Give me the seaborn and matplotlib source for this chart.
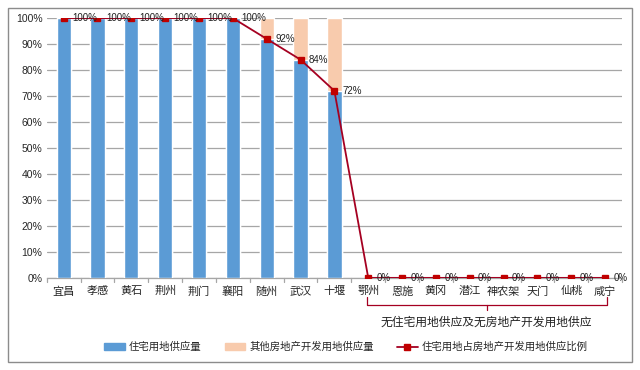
import matplotlib
matplotlib.use("Agg")
import matplotlib.pyplot as plt
import seaborn as sns
import pandas as pd
import numpy as np
from matplotlib.patches import Patch
from matplotlib.lines import Line2D

cities = ["宜昌", "孝感", "黄石", "荆州", "荆门", "襄阳", "随州", "武汉", "十堰",
          "鄂州", "恩施", "黄冈", "潜江", "神农架", "天门", "仙桃", "咸宁"]
residential = [100, 100, 100, 100, 100, 100, 92, 84, 72, 0, 0, 0, 0, 0, 0, 0, 0]
other = [0, 0, 0, 0, 0, 0, 8, 16, 28, 0, 0, 0, 0, 0, 0, 0, 0]
ratio = [100, 100, 100, 100, 100, 100, 92, 84, 72, 0, 0, 0, 0, 0, 0, 0, 0]
yticks = [0, 10, 20, 30, 40, 50, 60, 70, 80, 90, 100]

sns.set_theme(style="white")
plt.rcParams['font.family'] = ['Noto Sans CJK SC', 'DejaVu Sans']

df = pd.DataFrame({"city": cities, "res": residential, "oth": other, "ratio": ratio})
df["total"] = df["res"] + df["oth"]

BLUE = "#5b9bd5"
PEACH = "#f8cbad"
RED = "#a50021"
MRED = "#c00000"

fig = plt.figure(figsize=(6.4, 3.7), dpi=100)
ax = fig.add_axes([0.073, 0.249, 0.899, 0.702])

sns.barplot(data=df, x="city", y="total", color=PEACH, width=0.42, ax=ax,
            saturation=1, zorder=2)
sns.barplot(data=df, x="city", y="res", color=BLUE, width=0.42, ax=ax,
            saturation=1, zorder=3)
sns.pointplot(data=df, x="city", y="ratio", color=RED, markers="s",
              markersize=5, linewidth=1.3, ax=ax, zorder=4)
for ln in ax.lines:
    ln.set_markerfacecolor(MRED)
    ln.set_markeredgecolor(MRED)

for i, v in enumerate(ratio):
    ax.annotate(f"{v}%", (i, v), xytext=(6, 0), textcoords="offset points",
                va="center", ha="left", fontsize=7, color="#222222",
                family=["Liberation Sans", "DejaVu Sans"], zorder=5)

ax.set_ylim(0, 100)
ax.set_xlim(-0.5, len(cities) - 0.5)
ax.set_yticks(yticks)
ax.set_yticklabels([f"{t}%" for t in yticks], fontsize=7.5,
                   family=["Liberation Sans", "DejaVu Sans"])
ax.yaxis.grid(True, color="#a6a6a6", linewidth=0.9, zorder=0)
ax.set_axisbelow(True)
ax.set_xlabel("")
ax.set_ylabel("")
ax.tick_params(axis="x", labelsize=8, length=0, pad=6)
ax.tick_params(axis="y", length=0, pad=3)
for s in ["top", "right", "left"]:
    ax.spines[s].set_visible(False)
ax.spines["bottom"].set_color("#a6a6a6")
ax.spines["bottom"].set_linewidth(0.9)
# category boundary ticks
for b in np.arange(-0.5, len(cities), 1.0):
    ax.plot([b, b], [0, -1.6], color="#a6a6a6", lw=0.9, clip_on=False)

# bracket under the zero-supply cities
bx0, bx1 = 9 - 0.05, 16 + 0.05
yb = -10.4
ax.plot([bx0, bx0, bx1, bx1], [yb + 3, yb, yb, yb + 3], color="#a50021",
        lw=0.9, clip_on=False)
ax.plot([(bx0 + bx1) / 2] * 2, [yb, yb - 2.0], color="#a50021", lw=0.9,
        clip_on=False)
ax.text((bx0 + bx1) / 2, -17.2, "无住宅用地供应及无房地产开发用地供应",
        ha="center", va="center", fontsize=8.5, color="#222222")

handles = [Patch(facecolor=BLUE, edgecolor=BLUE),
           Patch(facecolor=PEACH, edgecolor=PEACH),
           Line2D([0], [0], color=RED, marker="s", markersize=4.5,
                  markerfacecolor=MRED, markeredgecolor=MRED, lw=1.3)]
labels = ["住宅用地供应量", "其他房地产开发用地供应量", "住宅用地占房地产开发用地供应比例"]
fig.legend(handles, labels, loc="center left", bbox_to_anchor=(0.148, 0.062),
           ncol=3, frameon=False, fontsize=7.5, handlelength=2.0,
           handleheight=0.6, columnspacing=2.2, handletextpad=0.4)

border = plt.Rectangle((0.012, 0.022), 0.976, 0.956, transform=fig.transFigure,
                       fill=False, edgecolor="#8c8c8c", lw=1.0)
fig.patches.append(border)

fig.savefig("out.png", dpi=100)
